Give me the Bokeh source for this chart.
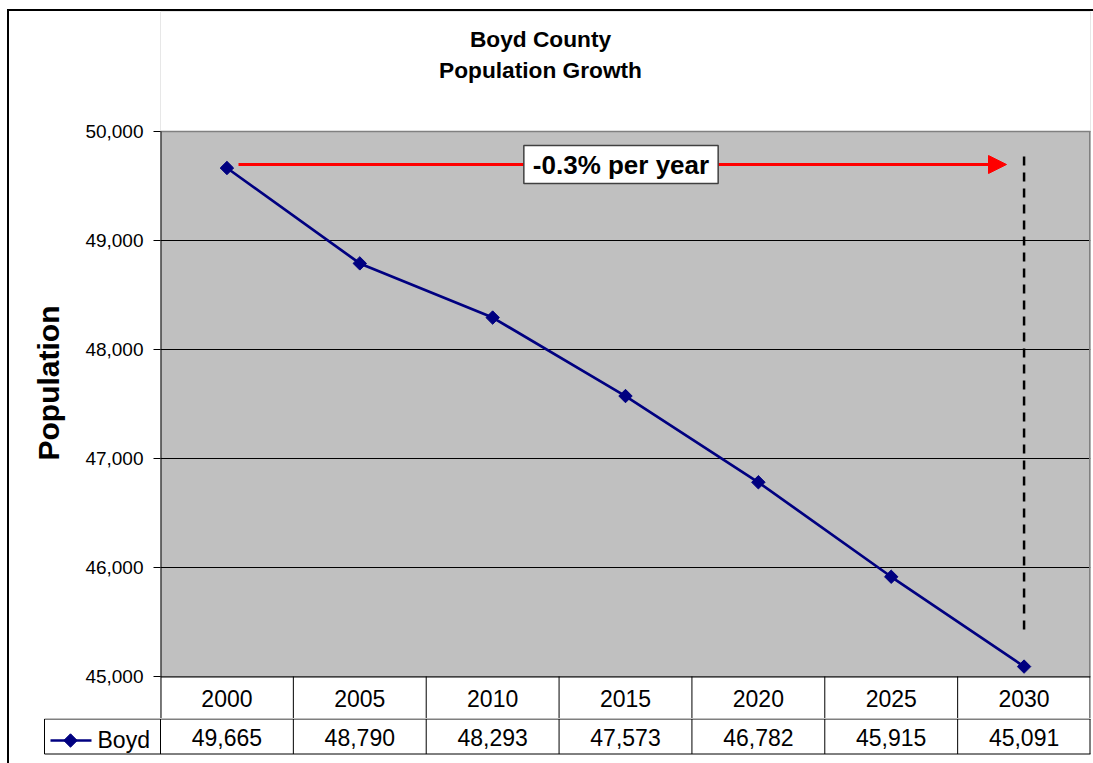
import numpy as np
from bokeh.plotting import figure
from bokeh.models import (Range1d, FixedTicker, NumeralTickFormatter, Label, Arrow,
                          NormalHead, Title)
from bokeh.layouts import column
from bokeh.embed import file_html
from bokeh.resources import INLINE
from bokeh.core.properties import value

# ---------------- data ----------------
title_lines = ["Boyd County", "Population Growth"]
series_name = "Boyd"
years = [2000, 2005, 2010, 2015, 2020, 2025, 2030]
population = [49665, 48790, 48293, 47573, 46782, 45915, 45091]
y_ticks = [45000, 46000, 47000, 48000, 49000, 50000]
y_label = "Population"
rate_label = "-0.3% per year"

# ---------------- layout constants (page pixels) ----------------
FONT = "Liberation Sans"
OX, OY = 9, 11            # content origin after CSS margin + border
W = 1084
ROW_DIV = 718             # page y of the line between the two table rows
H1 = ROW_DIV - OY
H2 = 763 - ROW_DIV
PLOT_L, PLOT_R = 160, 1090
PLOT_B = 676
PX_PER_1000 = 109.0
NAVY = "#000080"

x0, x1 = years[0] - 2.5, years[-1] + 2.5
ppu = (PLOT_R - PLOT_L) / (x1 - x0)
y_base = y_ticks[0]


def px(page_x):
    return x0 + (page_x - PLOT_L) / ppu


def py(page_y):
    return y_base + (PLOT_B - page_y) / PX_PER_1000 * 1000


# ---------------- chart (+ first table row) ----------------
p = figure(width=W, height=H1, output_backend="svg", toolbar_location=None,
           x_range=Range1d(x0, x1), y_range=Range1d(py(ROW_DIV), py(OY)),
           x_axis_location=None,
           min_border_left=PLOT_L - OX, min_border_right=(OX + W) - PLOT_R,
           min_border_top=0, min_border_bottom=0)
p.frame_align = False
p.background_fill_color = "#C0C0C0"
p.border_fill_color = "white"
p.outline_line_color = None
p.xgrid.visible = False
p.ygrid.grid_line_color = "black"
p.ygrid.grid_line_width = 1
p.ygrid.ticker = FixedTicker(ticks=y_ticks)

ax = p.yaxis[0]
ax.ticker = FixedTicker(ticks=y_ticks)
ax.formatter = NumeralTickFormatter(format="0,0")
ax.major_label_text_font = FONT
ax.major_label_text_font_size = "19px"
ax.major_label_text_color = "black"
ax.major_tick_out = 7
ax.major_tick_in = 0
ax.minor_tick_out = 0
ax.minor_tick_in = 0
ax.major_label_standoff = 10
ax.axis_line_color = None
ax.major_tick_line_color = "black"

# white areas above the plot (title region) and below it (year row)
p.quad(left=[x0, x0], right=[x1, x1], bottom=[y_ticks[-1], py(ROW_DIV)],
       top=[py(OY), y_ticks[0]], fill_color="white", line_color=None)
# plot-area borders
p.segment(x0=[x0, x0], y0=[y_ticks[-1], py(ROW_DIV)], x1=[x1, x0], y1=[y_ticks[-1], y_ticks[-1]],
          line_color=["#808080", "black"], line_width=[1.5, 2])
p.segment(x0=[x1], y0=[y_ticks[0]], x1=[x1], y1=[y_ticks[-1]], line_color="#808080", line_width=3)

# year row of the data table
bounds = [y - 2.5 for y in years] + [years[-1] + 2.5]
p.segment(x0=[x0], y0=[py(676.5)], x1=[x1], y1=[py(676.5)], line_color="black", line_width=1)
p.segment(x0=bounds[1:-1], y0=[y_ticks[0]] * (len(bounds) - 2), x1=bounds[1:-1],
          y1=[py(ROW_DIV)] * (len(bounds) - 2), line_color="black", line_width=1)
p.segment(x0=[x1 - 0.5 / ppu], y0=[y_ticks[0]], x1=[x1 - 0.5 / ppu], y1=[py(ROW_DIV)],
          line_color="black", line_width=1)
p.text(x=years, y=[py(698)] * len(years), text=[str(y) for y in years],
       text_font=value(FONT), text_font_size="23px", text_align="center",
       text_baseline="middle", text_color="black")

# titles
p.text(x=[px(540)] * 2, y=[py(38), py(69)], text=title_lines,
       text_font=value(FONT), text_font_size="22.7px", text_font_style="bold",
       text_align="center", text_baseline="middle", text_color="black")

# annotation: growth arrow
arrow_y = py(164)
p.add_layout(Arrow(end=NormalHead(size=18, fill_color="red", line_color="red"),
                   x_start=px(238), y_start=arrow_y,
                   x_end=px(1006), y_end=arrow_y,
                   line_color="red", line_width=3))
p.add_layout(Label(x=px(620.5), y=arrow_y, text=rate_label,
                   text_font=FONT, text_font_size="26px", text_font_style="bold",
                   text_color="black",
                   text_align="center", text_baseline="middle",
                   background_fill_color="white", border_line_color="#404040",
                   border_line_width=1.5, padding=(9, 4)))

# dashed vertical marker at final year
p.segment(x0=[years[-1]], y0=[py(156)], x1=[years[-1]], y1=[py(632)],
          line_color="black", line_width=2.5, line_dash="9 7")

# data series
p.line(years, population, line_color=NAVY, line_width=2.7)
p.scatter(years, population, marker="square", angle=np.pi / 4, size=9.5,
          fill_color=NAVY, line_color=NAVY)

# y-axis title (left panel)
p.add_layout(Title(text=y_label, align="left", offset=ROW_DIV - 460,
                   text_font=FONT, text_font_size="30px", text_font_style="bold",
                   text_color="black", standoff=35), "left")

# ---------------- data table: value row ----------------
q = figure(width=W, height=H2, output_backend="svg", toolbar_location=None,
           x_range=Range1d(px(OX), px(OX + W)), y_range=Range1d(H2, 0),
           x_axis_location=None, y_axis_location=None, min_border=0)
q.frame_align = False
q.min_border_left = 0
q.min_border_right = 0
q.min_border_top = 0
q.min_border_bottom = 0
q.outline_line_color = None
q.grid.visible = False
q.background_fill_color = "white"
q.border_fill_color = "white"

row_top, row_bot = 0.5, 35.5
leg_left = px(44)

q.segment(x0=[leg_left, leg_left], y0=[row_top, row_bot],
          x1=[x1, x1], y1=[row_top, row_bot],
          line_color="black", line_width=1)
q.segment(x0=bounds[:-1] + [x1 - 0.5 / ppu, leg_left], y0=[row_top] * (len(bounds) + 1),
          x1=bounds[:-1] + [x1 - 0.5 / ppu, leg_left], y1=[row_bot] * (len(bounds) + 1),
          line_color="black", line_width=1)

q.text(x=years, y=[19] * len(years), text=[f"{v:,}" for v in population],
       text_font=value(FONT), text_font_size="23px", text_align="center",
       text_baseline="middle", text_color="black")

# legend key
q.segment(x0=[px(50)], y0=[22], x1=[px(91)], y1=[22], line_color=NAVY, line_width=2.5)
q.scatter(x=[px(70)], y=[22], marker="square", angle=np.pi / 4, size=9.5,
          fill_color=NAVY, line_color=NAVY)
q.text(x=[px(97)], y=[21], text=[series_name], text_font=value(FONT),
       text_font_size="23px", text_align="left", text_baseline="middle",
       text_color="black")

layout = column(p, q, spacing=0,
                styles={"margin-left": "7px", "margin-top": "9px",
                        "border-left": "2px solid black", "border-top": "2px solid black"})

open("out.html", "w").write(file_html(layout, INLINE))
